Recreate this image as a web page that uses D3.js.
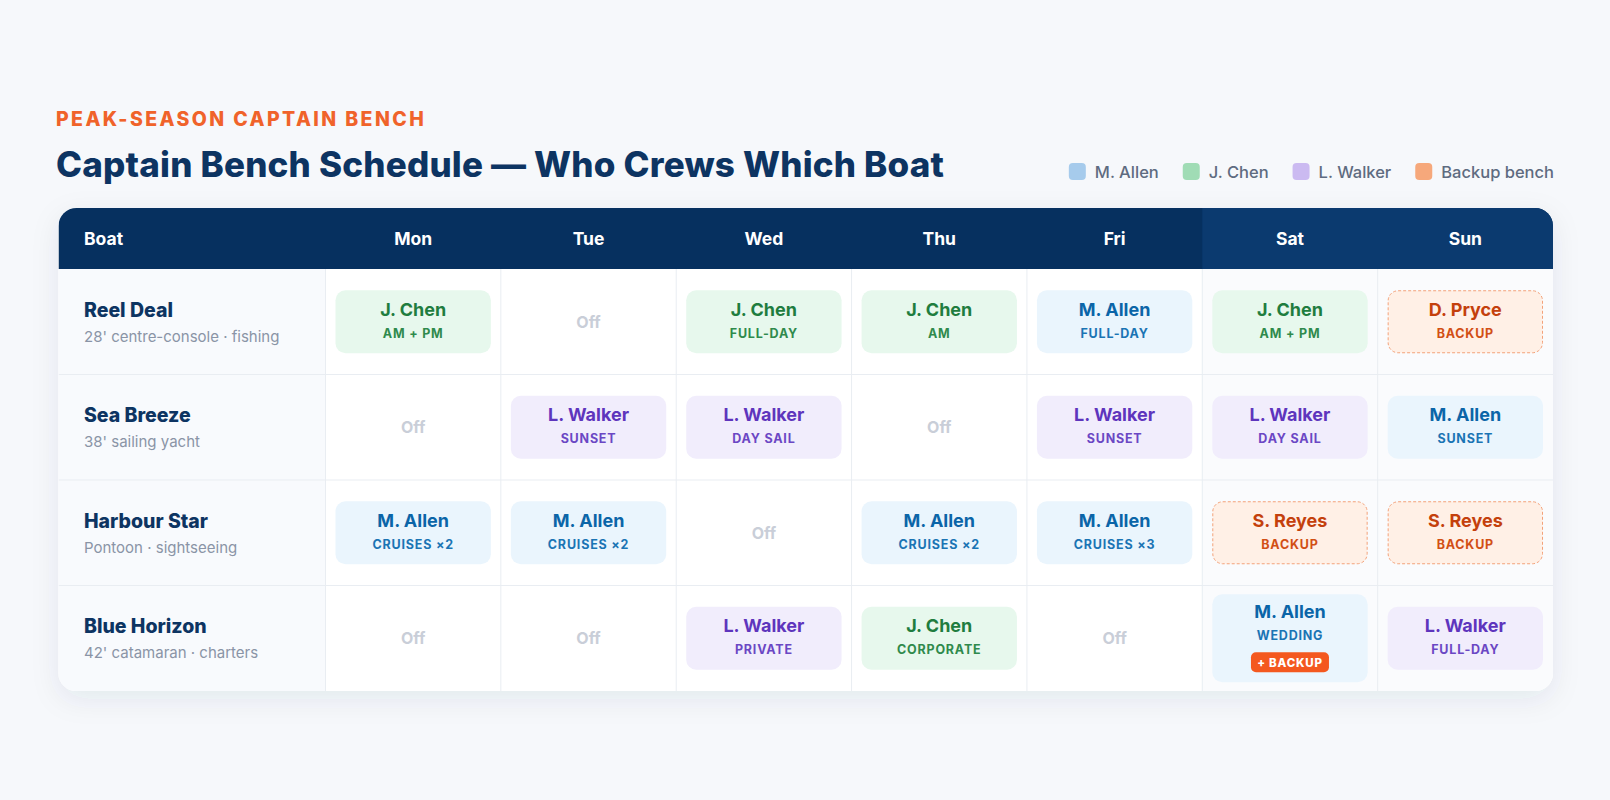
<!DOCTYPE html>
<html><head><meta charset="utf-8">
<script src="https://cdn.jsdelivr.net/npm/d3@7"></script>
<style>body{margin:0;background:#f6f8fb;font-family:Inter,"Noto Sans",sans-serif;}</style>
</head><body><svg id="c" width="1610" height="800"></svg>
<script>
const days = ["Mon","Tue","Wed","Thu","Fri","Sat","Sun"];
const boats = ["Reel Deal","Sea Breeze","Harbour Star","Blue Horizon"];
const boatDescs = ["28' centre-console · fishing","38' sailing yacht","Pontoon · sightseeing","42' catamaran · charters"];
// captain per boat per day (null = Off)
const captains = [
  ["J. Chen",null,"J. Chen","J. Chen","M. Allen","J. Chen","D. Pryce"],
  [null,"L. Walker","L. Walker",null,"L. Walker","L. Walker","M. Allen"],
  ["M. Allen","M. Allen",null,"M. Allen","M. Allen","S. Reyes","S. Reyes"],
  [null,null,"L. Walker","J. Chen",null,"M. Allen","L. Walker"]
];
const duties = [
  ["AM + PM",null,"FULL-DAY","AM","FULL-DAY","AM + PM","BACKUP"],
  [null,"SUNSET","DAY SAIL",null,"SUNSET","DAY SAIL","SUNSET"],
  ["CRUISES ×2","CRUISES ×2",null,"CRUISES ×2","CRUISES ×3","BACKUP","BACKUP"],
  [null,null,"PRIVATE","CORPORATE",null,"WEDDING","FULL-DAY"]
];
const legendNames = ["M. Allen","J. Chen","L. Walker","Backup bench"];

const styles = {
  "M. Allen": {text:"#0b65a8", sub:"#1a74b4", bg:"#eaf5fd", sw:"#a6cbec"},
  "J. Chen": {text:"#1f7d3f", sub:"#2f8a4c", bg:"#e7f8ed", sw:"#a0dcb5"},
  "L. Walker": {text:"#5e35bd", sub:"#6b47c4", bg:"#f1edfc", sw:"#cbbaf1"},
  "backup": {text:"#c4400c", sub:"#d24f15", bg:"#fff0e6", sw:"#f6a87b", border:"#f3a27a"}
};
const styleOf = n => styles[n] || styles.backup;

const svg = d3.select("#c");
const defs = svg.append("defs");
const f = defs.append("filter").attr("id","sh").attr("x","-10%").attr("y","-10%").attr("width","120%").attr("height","130%");
f.append("feDropShadow").attr("dx",0).attr("dy",8).attr("stdDeviation",14).attr("flood-color","#1b2f55").attr("flood-opacity",0.08);

svg.append("text").attr("x",56).attr("y",126).text("PEAK-SEASON CAPTAIN BENCH")
  .attr("fill","#f0632a").attr("font-size",19.5).attr("font-weight",800).attr("letter-spacing",2.4);
svg.append("text").attr("x",56).attr("y",177).text("Captain Bench Schedule — Who Crews Which Boat")
  .attr("fill","#0d3462").attr("font-size",35).attr("font-weight",800).attr("letter-spacing",0.2);

// legend (right aligned)
const lg = svg.append("g");
let lx = 1554;
const items = legendNames.slice().reverse().map(n=>({n, s: styleOf(n)}));
items.forEach(it=>{
  const t = lg.append("text").attr("y",178).attr("font-size",16.5).attr("font-weight",500).attr("fill","#5e6b80").text(it.n);
  const w = t.node().getComputedTextLength();
  lx -= w; t.attr("x",lx);
  lg.append("rect").attr("x",lx-26).attr("y",163).attr("width",17).attr("height",17).attr("rx",4).attr("fill",it.s.sw);
  lx -= 26 + 24;
});

const L=58.5, R=1553, T=208, HB=269, B=691, boatW=267;
const x = d3.scaleBand().domain(days).range([L+boatW, R]);
const y = d3.scaleBand().domain(boats).range([HB, B]);

const clip = defs.append("clipPath").attr("id","card");
clip.append("rect").attr("x",L).attr("y",T).attr("width",R-L).attr("height",B-T).attr("rx",18);
svg.append("rect").attr("x",L).attr("y",T).attr("width",R-L).attr("height",B-T).attr("rx",18).attr("fill","#fff").attr("filter","url(#sh)");
const g = svg.append("g").attr("clip-path","url(#card)");
g.append("rect").attr("x",L).attr("y",T).attr("width",R-L).attr("height",HB-T).attr("fill","#06305f");
g.append("rect").attr("x",x("Sat")).attr("y",T).attr("width",x.bandwidth()*2).attr("height",HB-T).attr("fill","#0b3a6f");
g.append("rect").attr("x",L).attr("y",HB).attr("width",boatW).attr("height",B-HB).attr("fill","#f8fafd");
g.append("rect").attr("x",x("Sat")).attr("y",HB).attr("width",x.bandwidth()*2).attr("height",B-HB).attr("fill","#fafbfd");

boats.slice(1).forEach(b=>g.append("line").attr("x1",L).attr("x2",R).attr("y1",y(b)).attr("y2",y(b)).attr("stroke","#e9edf2"));
days.forEach(d=>g.append("line").attr("x1",x(d)).attr("x2",x(d)).attr("y1",HB).attr("y2",B).attr("stroke","#e9edf2"));

g.append("text").attr("x",84).attr("y",245).text("Boat").attr("fill","#fff").attr("font-size",17.5).attr("font-weight",700);
days.forEach(d=>g.append("text").attr("x",x(d)+x.bandwidth()/2).attr("y",245).attr("text-anchor","middle")
  .text(d).attr("fill","#fff").attr("font-size",17.5).attr("font-weight",700));

boats.forEach((b,i)=>{
  const cy = y(b)+y.bandwidth()/2;
  g.append("text").attr("x",84).attr("y",cy-5).text(b).attr("fill","#0d3462").attr("font-size",19.5).attr("font-weight",800);
  g.append("text").attr("x",84).attr("y",cy+20).text(boatDescs[i]).attr("fill","#8a94a6").attr("font-size",15);
});

boats.forEach((b,i)=>{
  days.forEach((d,j)=>{
    const cx = x(d)+x.bandwidth()/2, cy = y(b)+y.bandwidth()/2;
    const c = captains[i][j];
    if(!c){
      g.append("text").attr("x",cx).attr("y",cy+6).attr("text-anchor","middle").text("Off")
        .attr("fill","#c9ced8").attr("font-size",16).attr("font-weight",700);
      return;
    }
    const s = styleOf(c);
    const extra = (i===3 && j===5);
    const h = extra ? 88 : 63;
    const pw = x.bandwidth()-20;
    const r = g.append("rect").attr("x",x(d)+10).attr("y",cy-h/2).attr("width",pw).attr("height",h).attr("rx",10).attr("fill",s.bg);
    if(s===styles.backup) r.attr("stroke",s.border).attr("stroke-dasharray","3,2").attr("stroke-width",1).attr("x",x(d)+10.5).attr("y",cy-h/2+.5).attr("width",pw-1).attr("height",h-1);
    const top = extra ? cy-20 : cy-6;
    g.append("text").attr("x",cx).attr("y",top).attr("text-anchor","middle").text(c).attr("fill",s.text).attr("font-size",18).attr("font-weight",700);
    g.append("text").attr("x",cx).attr("y",top+22).attr("text-anchor","middle").text(duties[i][j]).attr("fill",s.sub).attr("font-size",12.5).attr("font-weight",700).attr("letter-spacing",0.8);
    if(extra){
      g.append("rect").attr("x",cx-39).attr("y",cy+14).attr("width",78).attr("height",20).attr("rx",5).attr("fill","#f4581f");
      g.append("text").attr("x",cx).attr("y",cy+28.5).attr("text-anchor","middle").text("+ BACKUP").attr("fill","#fff").attr("font-size",11.5).attr("font-weight",800).attr("letter-spacing",0.8);
    }
  });
});
</script></body></html>
